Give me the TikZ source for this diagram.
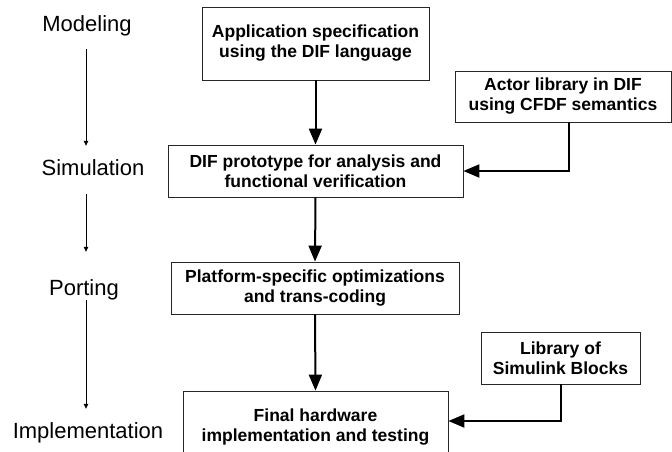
\documentclass[tikz,border=0pt]{standalone}
\usepackage{fontspec}
\setmainfont{Liberation Sans}
\usetikzlibrary{arrows.meta}
\begin{document}
\begin{tikzpicture}[x=1pt,y=-1pt,
  flowbox/.style={draw=black!85,line width=0.8pt,inner sep=0pt,align=center,
    font=\bfseries\fontsize{17.5}{20}\selectfont},
  stagelabel/.style={inner sep=0pt,anchor=base,text height=16pt,text depth=5pt,
    font=\fontsize{22}{24}\selectfont},
  flowarrow/.style={line width=2pt,-{Triangle[length=16pt,width=13pt]}},
  stagearrow/.style={line width=0.8pt,-{Triangle[length=5pt,width=4.5pt]}}]
\useasboundingbox (0,0) rectangle (672,451);

% stage labels on the left
\node[stagelabel] (modeling) at (87,31) {Modeling};
\node[stagelabel] (simulation) at (93,175) {Simulation};
\node[stagelabel] (porting) at (84,295) {Porting};
\node[stagelabel] (implementation) at (88,438) {Implementation};
\coordinate (ax) at (86,0);

\draw[stagearrow,shorten <=13pt,shorten >=13pt] (ax |- modeling.south) -- (ax |- simulation.north);
\draw[stagearrow,shorten <=14pt,shorten >=27pt] (ax |- simulation.south) -- (ax |- porting.north);
\draw[stagearrow,shorten >=13pt] (ax |- porting.south) -- (ax |- implementation.north);

% design flow boxes
\node[flowbox,minimum width=227pt,minimum height=73pt] (spec) at (315.5,43.5)
  {Application specification\\using the DIF language};
\node[flowbox,minimum width=216pt,minimum height=51pt] (actor) at (563,96.5)
  {Actor library in DIF\\using CFDF semantics};
\node[flowbox,minimum width=295pt,minimum height=52pt] (proto) at (315.5,171)
  {DIF prototype for analysis and\\functional verification};
\node[flowbox,minimum width=288pt,minimum height=52pt] (platform) at (315,288)
  {Platform-specific optimizations\\and trans-coding};
% the lowest box runs past the bottom edge of the page
\node[flowbox,minimum width=265pt,minimum height=72pt] (final) at (315.5,427)
  {Final hardware\\implementation and testing};
\node[flowbox,minimum width=159pt,minimum height=52pt] (simulink) at (560.5,358)
  {Library of\\Simulink Blocks};

% connectors
\draw[flowarrow] (spec.south) -- (proto.north);
\draw[flowarrow] (proto.south) -- (platform.north);
\draw[flowarrow] (platform.south) -- (final.north);
\draw[flowarrow] ([xshift=6pt]actor.south) |- (proto.east);
\draw[flowarrow] (simulink.south) |- ([yshift=6pt]final.east);
\end{tikzpicture}
\end{document}
